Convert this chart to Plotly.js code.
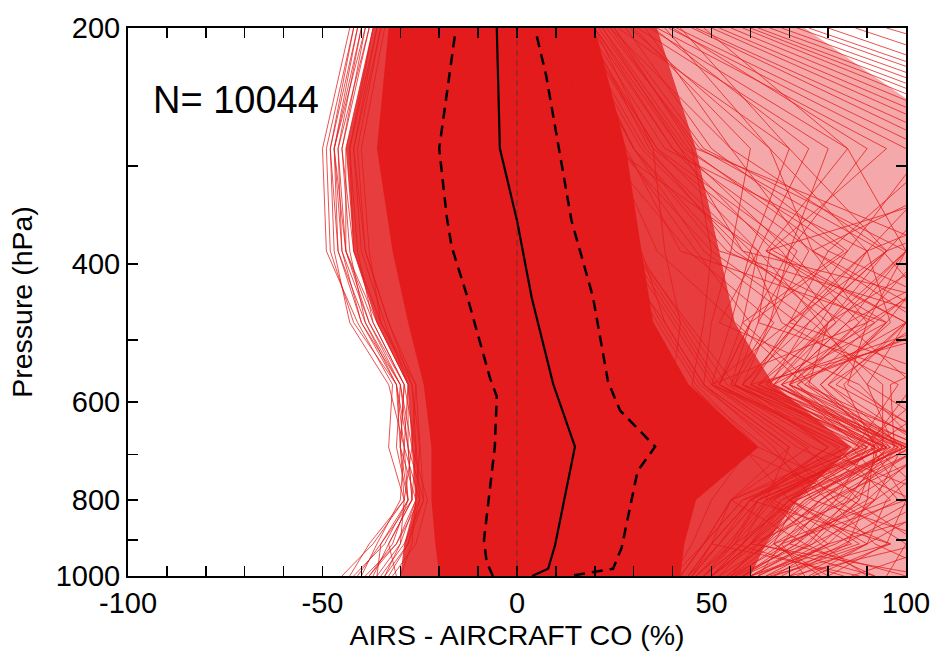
<!DOCTYPE html>
<html>
<head>
<meta charset="utf-8">
<script src="https://cdn.plot.ly/plotly-3.0.1.min.js"></script>
<style>html,body{margin:0;padding:0;background:#fff;}#chart{width:935px;height:651px;}</style>
</head>
<body>
<div id="chart"></div>
<script>
// Pressure levels (hPa) of the profiles
const levels = [200, 285, 385, 475, 570, 685, 800, 910, 1000];

// Mean and spread profiles (AIRS - aircraft CO, %)
const meanP = [200, 285, 352, 442, 569, 684, 913, 979, 1000];
const meanX = [-5.2, -4.4, 0.0, 3.8, 9.3, 14.9, 9.8, 8.0, 3.9];
const lowP  = [205, 285, 350, 380, 440, 560, 590, 684, 900, 960, 1000];
const lowX  = [-16, -20, -18, -16.8, -12.8, -6.9, -5.2, -5.7, -8.5, -7.8, -6.2];
const highP = [205, 230, 352, 440, 565, 615, 684, 735, 920, 979, 1000];
const highX = [5.1, 7.5, 14, 19.5, 23.4, 26.5, 35.5, 31, 26.9, 24.7, 13.6];

// Envelope of the densest (solid) part of the 10044 profiles
const coreLeft  = [-33, -36, -32, -28, -24, -22, -22, -21, -20];
const coreRight = [20, 28, 32, 35, 44, 62, 46, 43, 42];
// Envelope of the densely hatched part
const hatchLeft  = [-37, -44, -42, -36, -28, -27, -26, -29, -30];
const hatchRight = [36, 46, 52, 56, 66, 86, 72, 64, 60];
// Outer limit of the sparse lines on the right
const sparseP = [200, 246, 1000];
const sparseX = [74, 100, 100];

// Individual outlying profiles (x at each of the levels)
const leftProfiles = [
  [-43,-50,-49,-41,-32,-33,-29,-37,-45],
  [-42,-49,-48,-42,-31,-30,-28,-34,-42],
  [-41,-48,-47,-43,-33,-29,-30,-36,-40],
  [-40,-47,-45,-40,-30,-31,-28,-32,-38],
  [-39,-47,-46,-39,-31,-28,-27,-35,-36],
  [-38,-46,-44,-38,-29,-30,-26,-31,-39],
  [-38,-45,-43,-39,-30,-27,-29,-30,-34],
  [-37,-44,-44,-36,-28,-29,-25,-28,-33],
  [-36,-43,-41,-37,-29,-26,-27,-33,-31],
  [-35,-42,-40,-34,-28,-28,-24,-29,-35],
  [-35,-41,-39,-33,-27,-25,-26,-27,-30],
  [-34,-40,-38,-35,-26,-27,-23,-26,-32],
  [-42,-48,-46,-40,-31,-29,-28,-35,-41],
  [-40,-46,-45,-38,-30,-28,-27,-33,-37],
  [-39,-45,-42,-36,-28,-27,-26,-30,-36],
  [-37,-43,-42,-35,-27,-26,-25,-31,-38],
  [-36,-42,-39,-33,-26,-25,-24,-28,-34],
  [-41,-47,-44,-37,-29,-30,-29,-38,-43]
];
const upperProfiles = [
  [20, 35, 38, 42, 40, 50, 45, 40, 35],
  [25, 45, 50, 48, 45, 60, 50, 45, 40],
  [30, 60, 55, 50, 48, 70, 55, 48, 42],
  [35, 75, 62, 58, 52, 80, 60, 50, 45],
  [40, 90, 70, 65, 55, 95, 65, 55, 48],
  [45, 110, 80, 70, 60, 100, 70, 60, 50],
  [50, 120, 95, 75, 65, 105, 75, 62, 55],
  [55, 130, 76, 90, 70, 110, 80, 70, 58],
  [60, 140, 100, 85, 68, 95, 85, 75, 60],
  [65, 150, 64, 100, 72, 90, 65, 80, 62],
  [72, 160, 95, 80, 75, 100, 72, 66, 55],
  [80, 170, 110, 95, 80, 105, 90, 85, 70],
  [87, 180, 120, 90, 85, 110, 95, 90, 75],
  [95, 200, 130, 100, 90, 115, 100, 95, 80],
  [28, 50, 85, 60, 55, 90, 60, 52, 45],
  [33, 55, 95, 70, 50, 85, 55, 50, 44],
  [38, 65, 76, 110, 62, 100, 68, 58, 50],
  [42, 70, 95, 75, 58, 92, 62, 55, 46],
  [48, 85, 64, 95, 66, 98, 78, 65, 52],
  [22, 42, 58, 80, 70, 88, 58, 48, 40],
  [26, 70, 60, 55, 50, 75, 55, 48, 42],
  [31, 80, 70, 60, 52, 85, 60, 50, 44],
  [36, 95, 65, 62, 56, 92, 64, 54, 46],
  [41, 105, 85, 72, 58, 98, 70, 58, 48],
  [46, 115, 90, 78, 62, 102, 72, 60, 50],
  [52, 125, 100, 82, 66, 96, 78, 64, 54],
  [58, 135, 105, 88, 70, 104, 82, 68, 56],
  [62, 145, 115, 92, 74, 108, 86, 72, 58],
  [68, 155, 90, 96, 78, 93, 88, 76, 60],
  [75, 165, 125, 100, 82, 112, 92, 80, 64],
  [24, 55, 75, 65, 58, 80, 62, 52, 44],
  [29, 65, 90, 72, 60, 88, 66, 56, 46],
  [34, 85, 100, 80, 64, 94, 70, 58, 48],
  [39, 100, 120, 85, 68, 99, 74, 60, 50]
];
const middleProfiles = [
  [15, 30, 48, 72, 58, 93, 62, 52, 45],
  [12, 28, 42, 95, 78, 96, 58, 48, 42],
  [18, 34, 56, 84, 102, 90, 72, 56, 48],
  [10, 25, 62, 52, 88, 104, 80, 62, 50],
  [14, 30, 52, 112, 68, 92, 90, 70, 55],
  [16, 36, 72, 62, 108, 88, 66, 86, 60],
  [8, 22, 44, 66, 56, 86, 98, 76, 58],
  [12, 26, 50, 76, 94, 94, 70, 96, 65],
  [20, 40, 66, 100, 84, 92, 76, 62, 92],
  [10, 24, 36, 56, 74, 98, 86, 104, 70],
  [22, 44, 80, 120, 60, 95, 64, 58, 50],
  [18, 38, 90, 70, 115, 91, 100, 68, 62],
  [25, 48, 100, 90, 50, 89, 55, 74, 56],
  [14, 32, 58, 130, 96, 97, 84, 66, 78],
  [11, 27, 46, 60, 52, 83, 60, 50, 88],
  [24, 46, 110, 80, 66, 100, 120, 80, 66],
  [20, 42, 70, 88, 72, 94, 68, 60, 52],
  [17, 36, 62, 78, 90, 97, 74, 64, 54],
  [13, 30, 54, 92, 64, 90, 82, 72, 58],
  [19, 40, 76, 104, 80, 99, 92, 78, 62],
  [15, 33, 60, 68, 98, 87, 70, 90, 66],
  [21, 43, 84, 58, 76, 95, 62, 56, 84],
  [23, 47, 94, 110, 70, 101, 78, 68, 74],
  [16, 35, 68, 82, 62, 92, 106, 84, 68]
];
const lowerProfiles = [
  [5, 16, 26, 36, 46, 62, 92, 70, 100],
  [8, 18, 28, 40, 50, 72, 102, 82, 60],
  [6, 16, 30, 44, 56, 80, 60, 96, 76],
  [10, 20, 32, 38, 48, 66, 76, 110, 86],
  [4, 14, 22, 34, 42, 56, 86, 60, 106],
  [9, 19, 30, 42, 52, 76, 110, 90, 72],
  [7, 17, 27, 37, 47, 68, 82, 100, 95],
  [3, 12, 20, 30, 40, 58, 70, 88, 64],
  [6, 15, 25, 38, 48, 70, 64, 78, 90],
  [9, 20, 31, 43, 54, 82, 96, 66, 80],
  [5, 13, 24, 35, 44, 64, 80, 92, 110],
  [8, 18, 29, 41, 51, 74, 88, 74, 92]
];

const sampleCount = 'N= 10044';
const xTickVals = [-100,-90,-80,-70,-60,-50,-40,-30,-20,-10,0,10,20,30,40,50,60,70,80,90,100];
const xTickText = ['-100','','','','','-50','','','','','0','','','','','50','','','','','100'];
const yTickVals = [200, 300, 400, 500, 600, 700, 800, 900, 1000];
const yTickText = ['200', '', '400', '', '600', '', '800', '', '1000'];

const RED = 'rgb(228,27,28)';
const FONT = 'Liberation Sans, Arial, sans-serif';

function polygon(leftX, rightX, P) {
  return {
    x: leftX.concat(rightX.slice().reverse()),
    y: P.concat(P.slice().reverse())
  };
}
function family(profiles) {
  const x = [], y = [];
  profiles.forEach(p => {
    p.forEach((v, i) => { x.push(v); y.push(levels[i]); });
    x.push(null); y.push(null);
  });
  return { x, y };
}

const traces = [];
// sparse right region
traces.push({
  x: sparseX.concat(hatchRight.slice().reverse()),
  y: sparseP.concat(levels.slice().reverse()),
  mode: 'lines', fill: 'toself', fillcolor: 'rgba(228,27,28,0.38)',
  line: { width: 0 }, hoverinfo: 'skip'
});
const hatch = polygon(hatchLeft, hatchRight, levels);
traces.push({ x: hatch.x, y: hatch.y, mode: 'lines', fill: 'toself',
  fillcolor: 'rgba(228,27,28,0.85)', line: { width: 0 }, hoverinfo: 'skip' });
const core = polygon(coreLeft, coreRight, levels);
traces.push({ x: core.x, y: core.y, mode: 'lines', fill: 'toself',
  fillcolor: RED, line: { width: 0 }, hoverinfo: 'skip' });

[leftProfiles, upperProfiles, middleProfiles, lowerProfiles].forEach(fam => {
  const f = family(fam);
  traces.push({ x: f.x, y: f.y, mode: 'lines', connectgaps: false,
    line: { color: 'rgba(228,27,28,0.85)', width: 0.9 }, hoverinfo: 'skip' });
});

traces.push({ x: lowX, y: lowP, mode: 'lines',
  line: { color: 'black', width: 2.5, dash: '11px,7px' } });
traces.push({ x: highX, y: highP, mode: 'lines',
  line: { color: 'black', width: 2.5, dash: '11px,7px' } });
traces.push({ x: meanX, y: meanP, mode: 'lines',
  line: { color: 'black', width: 2.2 } });

const axisCommon = {
  ticks: 'inside', ticklen: 10, tickwidth: 1.5, tickcolor: 'black',
  showline: true, linewidth: 2, linecolor: 'black', mirror: 'ticks',
  showgrid: false, zeroline: false,
  tickfont: { family: FONT, size: 29, color: 'black' }
};

const layout = {
  width: 935, height: 651,
  margin: { l: 128, r: 29, t: 28, b: 75 },
  paper_bgcolor: 'white', plot_bgcolor: 'white',
  showlegend: false,
  font: { family: FONT, color: 'black' },
  xaxis: Object.assign({}, axisCommon, {
    range: [-100, 100], tickmode: 'array', tickvals: xTickVals, ticktext: xTickText,
    title: { text: 'AIRS - AIRCRAFT CO (%)', font: { family: FONT, size: 28.5 }, standoff: 0 }
  }),
  yaxis: Object.assign({}, axisCommon, {
    type: 'log', range: [3, Math.log10(200)],
    tickmode: 'array', tickvals: yTickVals, ticktext: yTickText,
    title: { text: 'Pressure (hPa)', font: { family: FONT, size: 28.5 }, standoff: 15 }
  }),
  shapes: [{
    type: 'line', xref: 'x', yref: 'paper', x0: 0, x1: 0, y0: 0, y1: 1,
    line: { color: 'rgba(70,50,50,0.8)', width: 1, dash: '6px,4px' }
  }],
  annotations: [{
    text: sampleCount, xref: 'paper', yref: 'paper', x: 0.029, y: 0.869,
    xanchor: 'left', yanchor: 'middle', showarrow: false,
    font: { family: FONT, size: 38, color: 'black' }
  }]
};

Plotly.newPlot('chart', traces, layout, { staticPlot: true, displayModeBar: false });
</script>
</body>
</html>
